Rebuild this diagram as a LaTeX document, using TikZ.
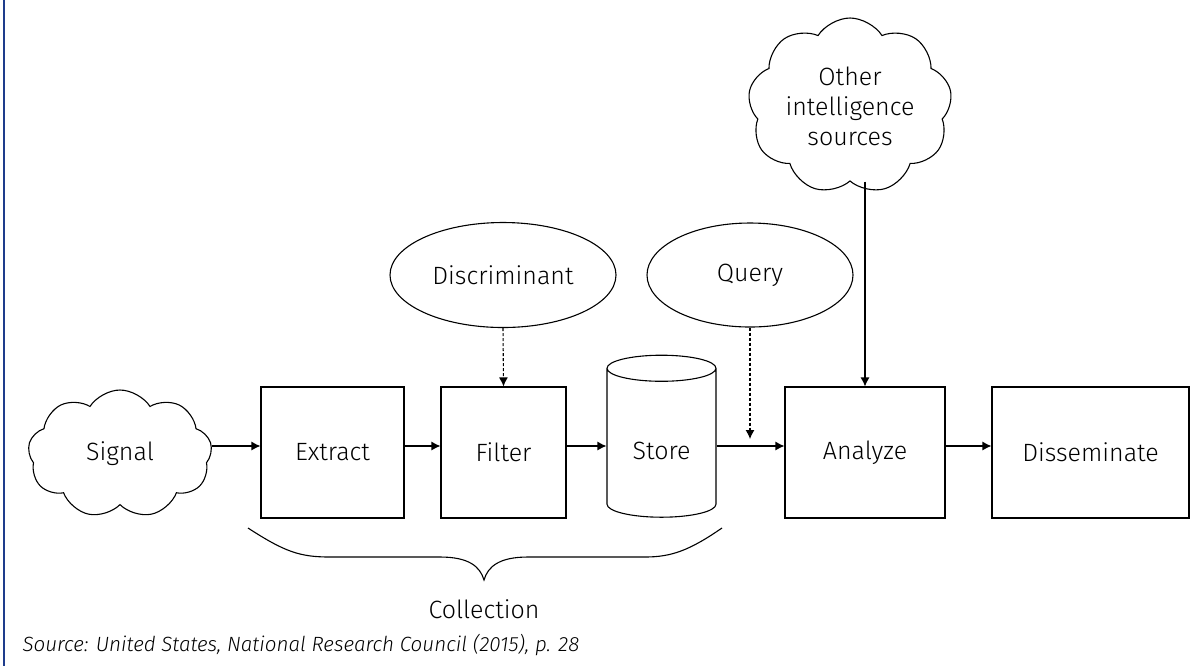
\documentclass[tikz,border=0pt]{standalone}
\usepackage{fontspec}
\setmainfont{Fira Sans}[UprightFont=* Light, ItalicFont=* Light Italic]
\usetikzlibrary{shapes.geometric,shapes.symbols,arrows.meta}

\begin{document}
\begin{tikzpicture}
[x=0.5pt,y=-0.5pt,line width=0.55pt,font=\fontsize{12.5}{15}\selectfont,
 stepbox/.style={rectangle,draw,minimum height=65.5pt,inner sep=0pt},
 blob/.style={cloud,draw,cloud puffs=9,cloud puff arc=115,cloud ignores aspect,inner sep=0pt},
 bubble/.style={ellipse,draw,inner sep=0pt},
 drum/.style={cylinder,draw,shape border rotate=90,aspect=0.45,inner sep=0pt},
 flow/.style={-{Latex[length=4.5pt,width=4.5pt]}},
 hint/.style={flow,dash pattern=on 1.5pt off 1pt}]

\useasboundingbox (0,0) rectangle (1198,666);
\draw[line width=0.8pt,color={rgb,255:red,30;green,60;blue,140}] (4,0) -- (4,666);

\coordinate (row) at (0,446);

\node (signal) at (120,454) [blob,minimum width=92pt,minimum height=64pt] {Signal};
\node (extract) at (332.5,452.5) [stepbox,minimum width=71.5pt] {Extract};
\node (filter) at (503.5,452.5) [stepbox,minimum width=62.5pt] {Filter};
\node (store) at (661.5,443) [drum,minimum width=54.5pt,minimum height=81pt,text height=17pt] {Store};
\node (analyze) at (865,452.5) [stepbox,minimum width=80pt] {Analyze};
\node (dissem) at (1090.5,452.5) [stepbox,minimum width=98.5pt] {Disseminate};

\node (disc) at (503,275) [bubble,minimum width=113pt,minimum height=52.5pt] {Discriminant};
\node (query) at (750,275) [bubble,minimum width=103pt,minimum height=52pt] {Query};
\node (other) at (850,106) [blob,minimum width=102pt,minimum height=88pt,align=center]
  {Other\\intelligence\\sources};

\draw[flow] (signal.east |- row) -- (extract.west |- row);
\draw[flow] (extract.east |- row) -- (filter.west |- row);
\draw[flow] (filter.east |- row) -- (store.west |- row);
\draw[flow] (store.east |- row) -- (analyze.west |- row);
\draw[flow] (analyze.east |- row) -- (dissem.west |- row);

\draw[hint] (disc.south) -- (filter.north);
\draw[hint,shorten >=3.5pt] (query.south) -- (query.south |- row);
\draw[flow] (analyze.north |- other.south) -- (analyze.north);

% collection brace
\draw (248,528) .. controls (285,552) and (300,557) .. (330,557) -- (440,557)
  .. controls (468,557) and (480,566) .. (484,580)
  .. controls (488,566) and (500,557) .. (528,557) -- (645,557)
  .. controls (672,557) and (690,550) .. (722,528);
\node (coll) at (484,609) {Collection};

\node (src) at (22,645) [anchor=west,inner sep=0pt,font=\fontsize{10.3}{12}\selectfont\itshape]
  {Source: United States, National Research Council (2015), p. 28};
\end{tikzpicture}
\end{document}
